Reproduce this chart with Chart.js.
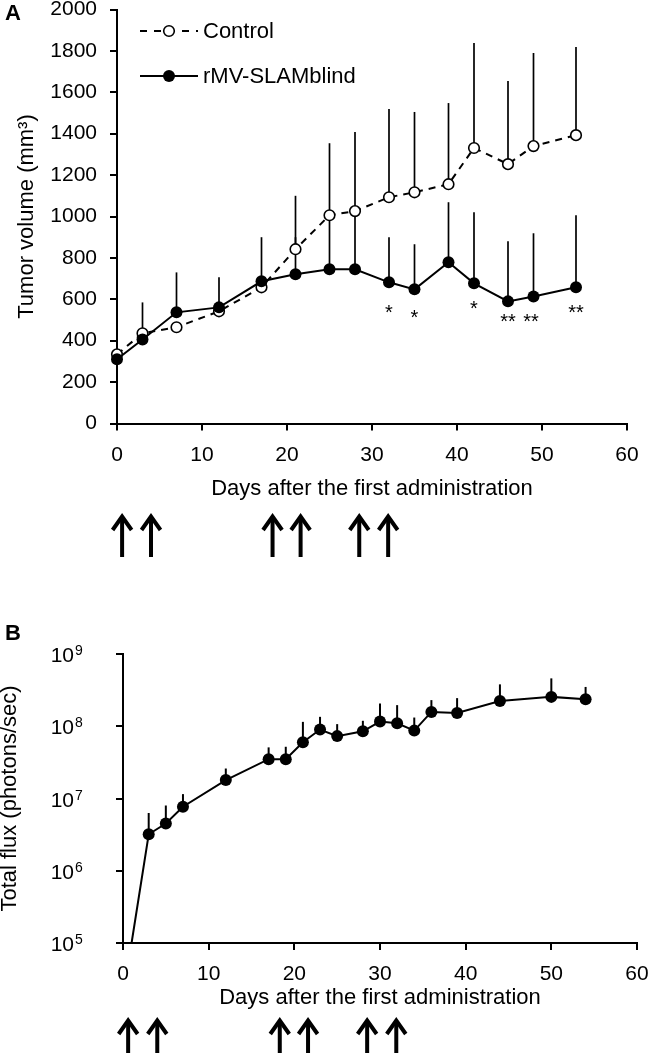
<!DOCTYPE html>
<html>
<head>
<meta charset="utf-8">
<script src="https://cdn.jsdelivr.net/npm/chart.js@4.4.1/dist/chart.umd.min.js"></script>
<style>
  body { margin: 0; background: #fff; }
  #wrap { position: relative; width: 650px; height: 1053px; overflow: hidden; }
  canvas { position: absolute; left: 0; }
</style>
</head>
<body>
<div id="wrap">
  <canvas id="chartA" width="650" height="600" style="top:0"></canvas>
  <canvas id="chartB" width="650" height="453" style="top:600px"></canvas>
</div>
<script>
const FONT = "'Liberation Sans', Arial, sans-serif";

// panel A - tumor volume (mean, top of SD bar)
const daysA = [0, 3, 7, 12, 17, 21, 25, 28, 32, 35, 39, 42, 46, 49, 54];
const controlMean = [334, 436, 465, 542, 658, 842, 1006, 1026, 1093, 1117, 1156, 1331, 1253, 1340, 1393];
const controlSdTop = [null, 585, null, null, 900, 1100, 1354, 1408, 1519, 1505, 1548, 1838, 1654, 1790, 1819];
const slamMean = [310, 406, 537, 561, 687, 721, 745, 745, 682, 648, 779, 677, 590, 614, 658];
const slamSdTop = [null, null, 730, 706, null, 900, 1020, 1030, 900, 866, 1069, 1021, 881, 919, 1006];
const sigDays = [32, 35, 42, 46, 48.7, 54];
const sigMarks = ['*', '*', '*', '**', '**', '**'];
const sigLevel = [561, 537, 580, 518, 518, 561];
const volTicks = [0, 200, 400, 600, 800, 1000, 1200, 1400, 1600, 1800, 2000];

// panel B - total flux
const daysB = [1, 3, 5, 7, 12, 17, 19, 21, 23, 25, 28, 30, 32, 34, 36, 39, 44, 50, 54];
const fluxMean = [1e5, 3.2e6, 4.5e6, 7.7e6, 1.8e7, 3.5e7, 3.5e7, 6.0e7, 9.0e7, 7.3e7, 8.5e7, 1.16e8, 1.1e8, 8.7e7, 1.58e8, 1.53e8, 2.23e8, 2.55e8, 2.37e8];
const fluxSdTop = [null, 6.3e6, 8e6, 1.15e7, 2.6e7, 5.1e7, 5.2e7, 1.15e8, 1.35e8, 1.07e8, 1.19e8, 2.07e8, 1.96e8, 1.32e8, 2.3e8, 2.45e8, 3.8e8, 4.6e8, 3.5e8];
const fluxTicks = [1e5, 1e6, 1e7, 1e8, 1e9];

// shared
const dayTicks = [0, 10, 20, 30, 40, 50, 60];
const doseDays = [0.6, 4, 18.3, 21.6, 28.5, 31.9];

const pts = (xs, ys) => xs.map((d, i) => ({x: d, y: ys[i]}));

function drawArrow(ctx, x, top, len){
  ctx.save();
  ctx.strokeStyle = '#000'; ctx.lineWidth = 4; ctx.lineJoin = 'miter'; ctx.lineCap = 'butt';
  ctx.beginPath(); ctx.moveTo(x, top + 3); ctx.lineTo(x, top + len); ctx.stroke();
  ctx.beginPath(); ctx.moveTo(x - 9.5, top + 16); ctx.lineTo(x, top + 2.5); ctx.lineTo(x + 9.5, top + 16); ctx.stroke();
  ctx.restore();
}

function legendRow(ctx, y, dashed, filled, text){
  ctx.save();
  ctx.strokeStyle = '#000'; ctx.lineWidth = 2;
  ctx.setLineDash(dashed ? [7, 7] : []);
  ctx.beginPath(); ctx.moveTo(140, y); ctx.lineTo(198, y); ctx.stroke();
  ctx.setLineDash([]);
  ctx.beginPath(); ctx.arc(169, y, filled ? 6 : 5.3, 0, 2 * Math.PI);
  ctx.fillStyle = filled ? '#000' : '#fff'; ctx.fill();
  if(!filled){ ctx.lineWidth = 1.6; ctx.stroke(); }
  ctx.fillStyle = '#000'; ctx.font = `22px ${FONT}`;
  ctx.textAlign = 'left'; ctx.textBaseline = 'middle';
  ctx.fillText(text, 203, y + 1);
  ctx.restore();
}

const decor = {
  id: 'decor',
  beforeDatasetsDraw(chart){
    const {ctx, scales: {x, y}} = chart;
    ctx.save();
    ctx.strokeStyle = '#000';
    chart.data.datasets.forEach(ds => {
      if(!ds.sdTop) return;
      ctx.lineWidth = ds.sdWidth;
      ds.sdTop.forEach((top, i) => {
        if(top == null) return;
        const px = x.getPixelForValue(ds.data[i].x);
        ctx.beginPath();
        ctx.moveTo(px, y.getPixelForValue(ds.data[i].y));
        ctx.lineTo(px, y.getPixelForValue(top));
        ctx.stroke();
      });
    });
    ctx.restore();
  },
  afterDraw(chart, args, o){
    const {ctx, chartArea: a, scales: {x, y}} = chart;
    ctx.save();
    ctx.fillStyle = '#000';
    // panel letter
    ctx.font = `bold 22px ${FONT}`; ctx.textAlign = 'left'; ctx.textBaseline = 'middle';
    ctx.fillText(o.letter, 5, o.letterY);
    // axis titles
    ctx.font = `22px ${FONT}`; ctx.textAlign = 'center';
    ctx.fillText('Days after the first administration', (a.left + a.right) / 2, o.xTitleY);
    ctx.save();
    ctx.translate(o.yTitleX, (a.top + a.bottom) / 2);
    ctx.rotate(-Math.PI / 2);
    ctx.fillText(o.yTitle, 0, 0);
    ctx.restore();
    // dosing arrows
    doseDays.forEach(d => drawArrow(ctx, x.getPixelForValue(d), o.arrowTop, 43));
    if(o.panel === 'A'){
      legendRow(ctx, 31, true, false, 'Control');
      legendRow(ctx, 76, false, true, 'rMV-SLAMblind');
      ctx.font = `20px ${FONT}`; ctx.textAlign = 'center'; ctx.textBaseline = 'alphabetic';
      sigDays.forEach((d, i) => ctx.fillText(sigMarks[i], x.getPixelForValue(d), y.getPixelForValue(sigLevel[i]) + 12));
    } else {
      fluxTicks.forEach(v => {
        const py = y.getPixelForValue(v);
        ctx.textBaseline = 'alphabetic';
        ctx.font = `21px ${FONT}`; ctx.textAlign = 'right';
        ctx.fillText('10', 74, py + 8);
        ctx.font = `14px ${FONT}`; ctx.textAlign = 'left';
        ctx.fillText(String(Math.round(Math.log10(v))), 75, py + 1);
      });
    }
    ctx.restore();
  }
};

const axisCommon = {
  grid: {drawOnChartArea: false, drawTicks: true, tickLength: 7, color: '#000', lineWidth: 2},
  border: {display: true, color: '#000', width: 2}
};

function xAxis(height){
  return Object.assign({}, axisCommon, {
    type: 'linear', min: 0, max: 60,
    afterBuildTicks: s => { s.ticks = dayTicks.map(v => ({value: v})); },
    ticks: {color: '#000', font: {size: 21, family: FONT}, padding: 12, maxRotation: 0, autoSkip: false,
            callback: v => String(v)},
    afterFit: s => { s.height = height; s.paddingLeft = 0; s.paddingRight = 0; }
  });
}

new Chart(document.getElementById('chartA'), {
  type: 'line',
  data: {
    datasets: [
      {label: 'rMV-SLAMblind', data: pts(daysA, slamMean), sdTop: slamSdTop, sdWidth: 1.7,
       borderColor: '#000', borderWidth: 2, pointRadius: 6, pointBackgroundColor: '#000',
       pointBorderColor: '#000', pointBorderWidth: 0, clip: false},
      {label: 'Control', data: pts(daysA, controlMean), sdTop: controlSdTop, sdWidth: 1.7,
       borderColor: '#000', borderWidth: 2, borderDash: [7, 6], pointRadius: 5.3,
       pointBackgroundColor: '#fff', pointBorderColor: '#000', pointBorderWidth: 1.6, clip: false}
    ]
  },
  options: {
    responsive: false, animation: false, devicePixelRatio: 1,
    layout: {padding: {left: 0, right: 23, top: 9.5, bottom: 0}},
    plugins: {legend: {display: false}, tooltip: {enabled: false},
      decor: {panel: 'A', letter: 'A', letterY: 14, yTitle: 'Tumor volume (mm³)', yTitleX: 27, xTitleY: 489, arrowTop: 514}},
    scales: {
      x: xAxis(176.5),
      y: Object.assign({}, axisCommon, {
        min: 0, max: 2000,
        afterBuildTicks: s => { s.ticks = volTicks.map(v => ({value: v})); },
        ticks: {color: '#000', font: {size: 21, family: FONT}, padding: 13, callback: v => String(v)},
        afterFit: s => { s.width = 117; s.paddingTop = 0; s.paddingBottom = 0; }
      })
    }
  },
  plugins: [decor]
});

new Chart(document.getElementById('chartB'), {
  type: 'line',
  data: {
    datasets: [
      {label: 'Total flux', data: pts(daysB, fluxMean), sdTop: fluxSdTop, sdWidth: 2,
       borderColor: '#000', borderWidth: 2, pointRadius: daysB.map((d, i) => i === 0 ? 0 : 6),
       pointBackgroundColor: '#000', pointBorderWidth: 0, clip: false}
    ]
  },
  options: {
    responsive: false, animation: false, devicePixelRatio: 1,
    layout: {padding: {left: 0, right: 13, top: 54, bottom: 0}},
    plugins: {legend: {display: false}, tooltip: {enabled: false},
      decor: {panel: 'B', letter: 'B', letterY: 34, yTitle: 'Total flux (photons/sec)', yTitleX: 10, xTitleY: 398, arrowTop: 418}},
    scales: {
      x: xAxis(110),
      y: Object.assign({}, axisCommon, {
        type: 'logarithmic', min: 1e5, max: 1e9,
        afterBuildTicks: s => { s.ticks = fluxTicks.map(v => ({value: v})); },
        ticks: {callback: () => '', padding: 0},
        afterFit: s => { s.width = 123; s.paddingTop = 0; s.paddingBottom = 0; }
      })
    }
  },
  plugins: [decor]
});
</script>
</body>
</html>
